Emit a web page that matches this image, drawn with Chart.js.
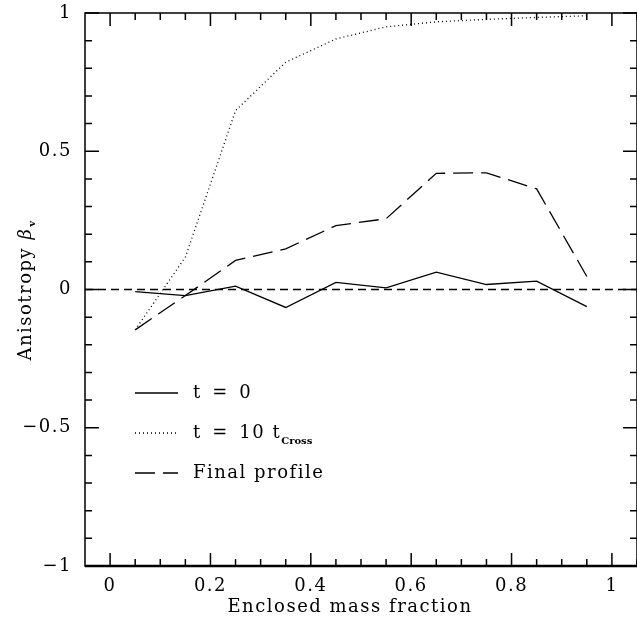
<!DOCTYPE html>
<html lang="en">
<head>
<meta charset="UTF-8">
<title>Velocity anisotropy profile</title>
<script src="https://cdn.jsdelivr.net/npm/chart.js"></script>
<style>
   html, body { margin: 0; padding: 0; background: #fff; }
   #wrap { width: 637px; height: 623px; }
</style>
</head>
<body>
<div id="wrap"><canvas id="anisoChart"></canvas></div>
<script>
   // enclosed mass fraction bins
   const massFrac = [0.05, 0.15, 0.25, 0.35, 0.45, 0.55, 0.65, 0.75, 0.85, 0.95];
   const betaT0 = [-0.008, -0.022, 0.012, -0.065, 0.026, 0.006, 0.063, 0.018, 0.030, -0.062];
   const betaT10 = [-0.146, 0.117, 0.647, 0.822, 0.906, 0.950, 0.968, 0.977, 0.984, 0.990];
   const betaFinal = [-0.146, -0.022, 0.105, 0.147, 0.231, 0.256, 0.420, 0.422, 0.364, 0.047];

   // reference line at beta = 0
   const zeroX = [-0.05, 1.05];
   const zeroY = [0, 0];

   const xTicks = [0, 0.2, 0.4, 0.6, 0.8, 1];
   const xTickLabels = ['0', '0.2', '0.4', '0.6', '0.8', '1'];
   const yTicks = [-1, -0.5, 0, 0.5, 1];
   const yTickLabels = ['\u22121', '\u22120.5', '0', '0.5', '1'];

   const FONT = 'DejaVu Serif';
   const SPACING = '1.5px';
   const pts = (xs, ys) => xs.map((v, i) => ({ x: v, y: ys[i] }));

   // wider letter spacing like the original plot font
   const spacingPlugin = {
      id: 'spacingPlugin',
      beforeUpdate(chart) { chart.ctx.letterSpacing = SPACING; },
      beforeDraw(chart) { chart.ctx.letterSpacing = SPACING; }
   };

   // box, inward ticks, axis titles and legend (need subscripts)
   const framePlugin = {
      id: 'framePlugin',
      afterDraw(chart) {
         const { ctx, chartArea: a, scales: { x, y } } = chart;
         ctx.save();
         ctx.letterSpacing = SPACING;
         ctx.strokeStyle = '#000';
         ctx.lineWidth = 1.5;
         ctx.strokeRect(a.left, a.top, a.right - a.left, a.bottom - a.top);
         ctx.lineWidth = 2.5;
         ctx.beginPath();
         ctx.moveTo(a.left, a.bottom); ctx.lineTo(a.right, a.bottom);
         ctx.stroke();

         ctx.lineWidth = 1.5;
         ctx.beginPath();
         for (let i = 0; i <= 21; i++) {
            const px = x.getPixelForValue(i * 0.05);
            const len = i % 4 === 0 ? 13 : 7;
            ctx.moveTo(px, a.bottom); ctx.lineTo(px, a.bottom - len);
            ctx.moveTo(px, a.top); ctx.lineTo(px, a.top + len);
         }
         for (let i = 0; i <= 20; i++) {
            const py = y.getPixelForValue(-1 + i * 0.1);
            const len = i % 5 === 0 ? 14 : 7;
            ctx.moveTo(a.left, py); ctx.lineTo(a.left + len, py);
            ctx.moveTo(a.right, py); ctx.lineTo(a.right - len, py);
         }
         ctx.stroke();

         ctx.fillStyle = '#000';

         // x axis title
         ctx.font = `18px "${FONT}"`;
         ctx.textAlign = 'center';
         ctx.textBaseline = 'middle';
         ctx.fillText('Enclosed mass fraction', 350, 607);
         ctx.textAlign = 'left';

         // y axis title
         ctx.textBaseline = 'alphabetic';
         ctx.font = `18px "${FONT}"`;
         const w1 = ctx.measureText('Anisotropy ').width;
         ctx.font = `italic 18px "${FONT}"`;
         const w2 = ctx.measureText('\u03B2').width;
         ctx.font = `bold 10px "${FONT}"`;
         const w3 = ctx.measureText('v').width;
         ctx.save();
         ctx.translate(31, 290);
         ctx.rotate(-Math.PI / 2);
         let sx = -(w1 + w2 + w3 + 1) / 2;
         ctx.font = `18px "${FONT}"`;
         ctx.fillText('Anisotropy ', sx, 0);
         ctx.font = `italic 18px "${FONT}"`;
         ctx.fillText('\u03B2', sx + w1, 0);
         ctx.font = `bold 10px "${FONT}"`;
         ctx.fillText('v', sx + w1 + w2 + 1, 4);
         ctx.restore();

         // legend
         const rows = [
            { ds: chart.data.datasets[0], y: 393, main: 't\u2002=\u20020', sub: '' },
            { ds: chart.data.datasets[1], y: 433, main: 't\u2002=\u200210 t', sub: 'Cross' },
            { ds: chart.data.datasets[2], y: 473, main: 'Final profile', sub: '' }
         ];
         rows.forEach(r => {
            ctx.lineWidth = r.ds.borderWidth;
            ctx.setLineDash(r.ds.borderDash || []);
            ctx.beginPath();
            ctx.moveTo(135, r.y); ctx.lineTo(178, r.y);
            ctx.stroke();
            ctx.setLineDash([]);
            ctx.font = `18px "${FONT}"`;
            ctx.textBaseline = 'middle';
            ctx.fillText(r.main, 193, r.y);
            if (r.sub) {
               const mw = ctx.measureText(r.main).width;
               ctx.font = `bold 10px "${FONT}"`;
               ctx.letterSpacing = '0px';
               ctx.fillText(r.sub, 193 + mw, r.y + 8);
               ctx.letterSpacing = SPACING;
            }
         });
         ctx.restore();
      }
   };

   new Chart(document.getElementById('anisoChart'), {
      type: 'line',
      data: {
         datasets: [
            { label: 't = 0', data: pts(massFrac, betaT0), borderColor: '#000', borderWidth: 1.3 },
            { label: 't = 10 tCross', data: pts(massFrac, betaT10), borderColor: '#000', borderWidth: 1.3, borderDash: [1, 3] },
            { label: 'Final profile', data: pts(massFrac, betaFinal), borderColor: '#000', borderWidth: 1.3, borderDash: [20, 8] },
            { label: 'zero', data: pts(zeroX, zeroY), borderColor: '#000', borderWidth: 1.4, borderDash: [8, 5] }
         ]
      },
      options: {
         responsive: true,
         maintainAspectRatio: false,
         animation: false,
         devicePixelRatio: 1,
         layout: { padding: { top: 13, right: 0, left: 0, bottom: 0 } },
         elements: { point: { radius: 0 }, line: { tension: 0, fill: false } },
         plugins: { legend: { display: false }, tooltip: { enabled: false } },
         scales: {
            x: {
               type: 'linear',
               min: -0.05,
               max: 1.05,
               grid: { display: false, drawTicks: false },
               border: { display: false },
               afterBuildTicks: s => { s.ticks = xTicks.map(v => ({ value: v })); },
               afterFit: s => { s.height = 57; s.paddingLeft = 0; s.paddingRight = 0; },
               ticks: {
                  autoSkip: false,
                  maxRotation: 0,
                  padding: 10,
                  color: '#000',
                  font: { family: FONT, size: 18 },
                  callback: v => xTickLabels[xTicks.indexOf(v)]
               }
            },
            y: {
               type: 'linear',
               min: -1,
               max: 1,
               grid: { display: false, drawTicks: false },
               border: { display: false },
               afterBuildTicks: s => { s.ticks = yTicks.map(v => ({ value: v })); },
               afterFit: s => { s.width = 85; s.paddingTop = 0; s.paddingBottom = 0; },
               ticks: {
                  autoSkip: false,
                  padding: 13,
                  color: '#000',
                  font: { family: FONT, size: 18 },
                  callback: v => yTickLabels[yTicks.indexOf(v)]
               }
            }
         }
      },
      plugins: [spacingPlugin, framePlugin]
   });
</script>
</body>
</html>
